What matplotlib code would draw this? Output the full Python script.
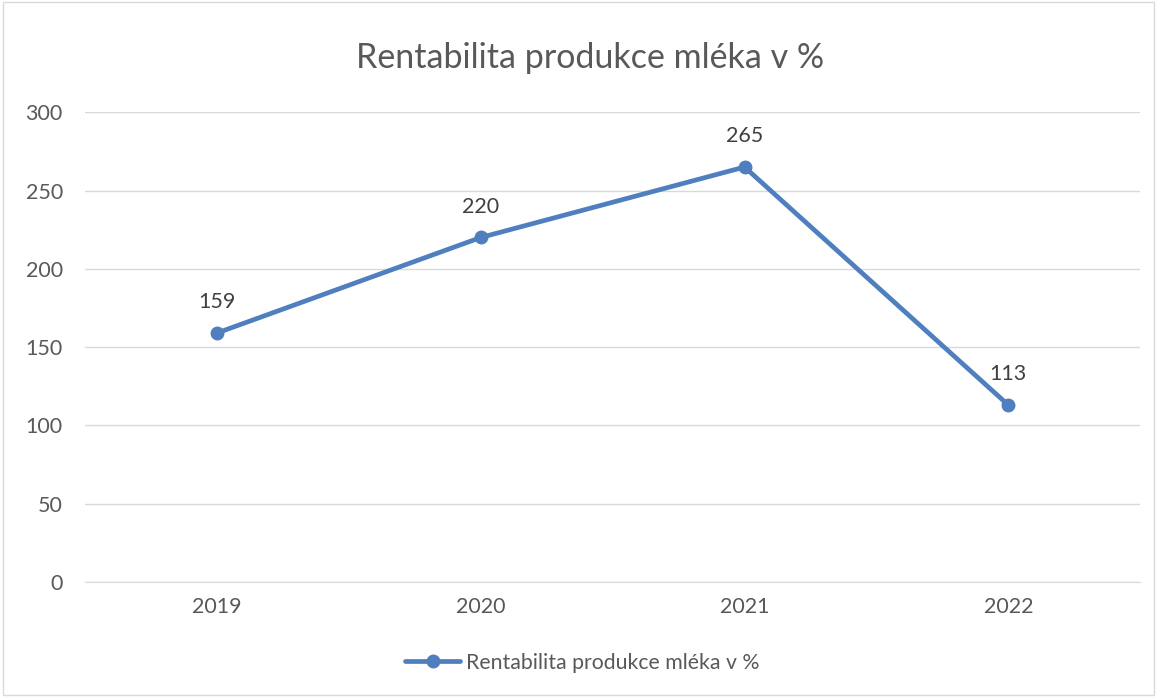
import matplotlib.pyplot as plt
from matplotlib.patches import Rectangle

plt.rcParams['font.family'] = ['Lato', 'DejaVu Sans']

years = ['2019', '2020', '2021', '2022']
values = [159, 220, 265, 113]
series_name = 'Rentabilita produkce mléka v %'

line_color = '#4F7FBF'
text_color = '#595959'

fig = plt.figure(figsize=(11.57, 6.97), dpi=100)
ax = fig.add_axes([0.0735, 0.165, 0.912, 0.674])

x = range(len(years))
ax.plot(x, values, color=line_color, lw=3.4, marker='o', ms=9, label=series_name,
        solid_capstyle='round')
for xi, v in zip(x, values):
    ax.annotate(str(v), (xi, v), xytext=(0, 15), textcoords='offset points',
                ha='center', va='bottom', fontsize=15.5, color='#404040')

ax.set_xlim(-0.5, 3.5)
ax.set_ylim(0, 300)
ax.set_yticks(range(0, 301, 50))
ax.set_xticks(list(x))
ax.set_xticklabels(years)
ax.grid(axis='y', color='#d9d9d9', lw=1)
ax.set_axisbelow(True)
for s in ['top', 'right', 'left']:
    ax.spines[s].set_visible(False)
ax.spines['bottom'].set_color('#d9d9d9')
ax.tick_params(length=0, labelsize=15.5, colors=text_color, pad=11)
ax.tick_params(axis='y', pad=16)

fig.suptitle(series_name, x=0.51, y=0.94, fontsize=24.5, color=text_color)

fig.legend(loc='center', bbox_to_anchor=(0.503, 0.049), frameon=False, fontsize=15.3,
           labelcolor=text_color, handlelength=2.6, handletextpad=0.25)

fig.patches.append(Rectangle((0.003, 0.003), 0.994, 0.994, transform=fig.transFigure,
                             fill=False, edgecolor='#d9d9d9', lw=1))

fig.savefig('out.png', dpi=100)
